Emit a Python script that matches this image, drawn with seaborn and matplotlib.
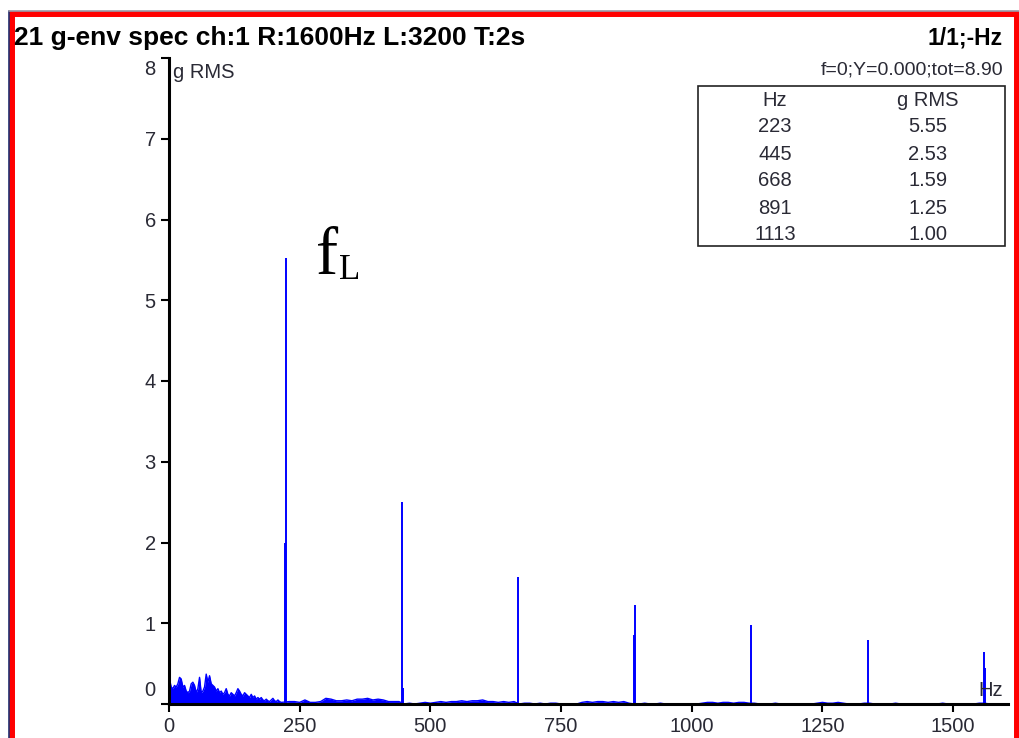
import numpy as np
import pandas as pd
import matplotlib
matplotlib.use("Agg")
import matplotlib.pyplot as plt
import seaborn as sns
from matplotlib.patches import Rectangle
from matplotlib.lines import Line2D

# ---------------- data ----------------
title_left = "21 g-env spec ch:1 R:1600Hz L:3200 T:2s"
title_right = "1/1;-Hz"
cursor_text = "f=0;Y=0.000;tot=8.90"
y_unit = "g RMS"
x_unit = "Hz"

# low-frequency noise floor (g RMS), sampled every 3.19 Hz from 1 Hz
low_start_hz = 1.0
low_step_hz = 3.19
low_noise = [0.31, 0.21, 0.19, 0.23, 0.21, 0.25, 0.33, 0.31, 0.21, 0.23,
             0.16, 0.14, 0.16, 0.25, 0.27, 0.23, 0.14, 0.19, 0.33, 0.14,
             0.16, 0.21, 0.37, 0.27, 0.35, 0.25, 0.23, 0.21, 0.16, 0.19,
             0.14, 0.16, 0.12, 0.14, 0.19, 0.12, 0.10, 0.14, 0.12, 0.10,
             0.14, 0.19, 0.16, 0.12, 0.10, 0.14, 0.12, 0.10, 0.08, 0.12,
             0.08, 0.10, 0.06, 0.08, 0.06, 0.08, 0.05, 0.04, 0.06, 0.04,
             0.03, 0.05, 0.07, 0.04, 0.03, 0.05, 0.03, 0.02]

# higher-frequency noise floor (g RMS), sampled every 10 Hz from 230 Hz
high_start_hz = 230
high_step_hz = 10
high_noise = [0.03, 0.03, 0.02, 0.05, 0.02, 0.02, 0.03, 0.07, 0.06, 0.04,
              0.04, 0.05, 0.04, 0.06, 0.06, 0.07, 0.05, 0.06, 0.05, 0.03,
              0.03, 0.03, 0.00, 0.01, 0.00, 0.01, 0.02, 0.01, 0.02, 0.03,
              0.02, 0.03, 0.03, 0.04, 0.03, 0.04, 0.04, 0.05, 0.03, 0.03,
              0.02, 0.03, 0.02, 0.03, 0.00, 0.01, 0.01, 0.00, 0.01, 0.00,
              0.01, 0.01, 0.00, 0.00, 0.00, 0.00, 0.02, 0.03, 0.02, 0.03,
              0.03, 0.02, 0.03, 0.02, 0.03, 0.01, 0.00, 0.00, 0.01, 0.00,
              0.00, 0.01, 0.00, 0.00, 0.00, 0.00, 0.00, 0.00, 0.00, 0.01,
              0.02, 0.02, 0.01, 0.02, 0.02, 0.01, 0.02, 0.02, 0.01, 0.01,
              0.00, 0.00, 0.00, 0.01, 0.00, 0.00, 0.00, 0.00, 0.00, 0.00,
              0.00, 0.01, 0.02, 0.01, 0.01, 0.02, 0.01, 0.00, 0.00, 0.00,
              0.01, 0.01, 0.00, 0.00, 0.00, 0.00, 0.01, 0.00, 0.00, 0.00,
              0.00, 0.00, 0.00, 0.00, 0.00, 0.01, 0.00, 0.00, 0.00, 0.00,
              0.00, 0.00, 0.01, 0.01, 0.00, 0.00, 0.00, 0.00]

# harmonic peaks
peak_hz = [221.5, 223, 445, 447, 668, 890, 892, 1113, 1337, 1559, 1560.5]
peak_g = [2.00, 5.52, 2.50, 0.20, 1.57, 0.86, 1.23, 0.98, 0.79, 0.64, 0.45]

# peak table
table_hz = ["223", "445", "668", "891", "1113"]
table_g = ["5.55", "2.53", "1.59", "1.25", "1.00"]

x_ticks = [0, 250, 500, 750, 1000, 1250, 1500]
y_ticks = [0, 1, 2, 3, 4, 5, 6, 7, 8]

# ---------------- style ----------------
sns.set_theme(style="white")
plt.rcParams["font.family"] = ["Liberation Sans", "DejaVu Sans"]

W, H = 1019, 738
fig = plt.figure(figsize=(W / 100, H / 100), dpi=100)
fig.patch.set_facecolor("white")


def fx(px):
    return px / W


def fy(py):
    return 1 - py / H


ax_l, ax_r, ax_t, ax_b = 169, 1008, 58, 704
ax = fig.add_axes([fx(ax_l), fy(ax_b), (ax_r - ax_l) / W, (ax_b - ax_t) / H])
ax.set_facecolor("white")

low_f = low_start_hz + low_step_hz * np.arange(len(low_noise))
high_f = high_start_hz + high_step_hz * np.arange(len(high_noise))
noise = pd.DataFrame({
    "freq": np.concatenate([low_f, high_f]),
    "amp": np.concatenate([low_noise, high_noise]),
})

ax.fill_between(noise["freq"], 0, noise["amp"], color="#0000FF", lw=0)
sns.lineplot(data=noise, x="freq", y="amp", color="#0000FF", lw=1.0, ax=ax)
ax.vlines(peak_hz, 0, peak_g, color="#0000FF", lw=1.4)

ax.set_xlim(0, 1605)
ax.set_ylim(0, 8)
ax.set_xlabel("")
ax.set_ylabel("")

for s in ["top", "right"]:
    ax.spines[s].set_visible(False)
for s in ["left", "bottom"]:
    ax.spines[s].set_color("black")
    ax.spines[s].set_linewidth(2.2)
    ax.spines[s].set_zorder(5)

tick_col = "#2a2a35"
ax.set_xticks(x_ticks)
ax.set_xticklabels([str(v) for v in x_ticks])
ax.set_yticks(y_ticks)
ax.set_yticklabels([("" if v in (0, 8) else str(v)) for v in y_ticks])
ax.tick_params(axis="both", direction="out", length=6, width=1.5, colors="black",
               labelcolor=tick_col, labelsize=14.5, pad=3.5)
ax.tick_params(axis="x", bottom=True)
ax.tick_params(axis="y", left=True)

# end labels for y axis (shifted inside the axis range)
ax.annotate("8", xy=(0, 8), xycoords=("axes fraction", "data"), xytext=(-9.5, -8.6),
            textcoords="offset points", ha="right", va="center", fontsize=14.5, color=tick_col)
ax.annotate("0", xy=(0, 0), xycoords=("axes fraction", "data"), xytext=(-9.5, 10),
            textcoords="offset points", ha="right", va="center", fontsize=14.5, color=tick_col)

# unit labels
fig.text(fx(173), fy(72), y_unit, ha="left", va="center", fontsize=14.5, color=tick_col)
fig.text(fx(1003), fy(690), x_unit, ha="right", va="center", fontsize=14.5, color=tick_col)

# title texts
fig.text(fx(14), fy(38), title_left, ha="left", va="center", fontsize=19, fontweight="bold", color="black")
fig.text(fx(1003), fy(38), title_right, ha="right", va="center", fontsize=16.5, fontweight="bold", color="black")
fig.text(fx(1003), fy(70), cursor_text, ha="right", va="center", fontsize=14, color=tick_col)

# peak table
tb_l, tb_r, tb_t, tb_b = 698, 1005, 86, 246
fig.add_artist(Rectangle((fx(tb_l), fy(tb_b)), (tb_r - tb_l) / W, (tb_b - tb_t) / H,
                         transform=fig.transFigure, fill=False, ec="#222222", lw=1.2))
col1, col2 = 775, 928
fig.text(fx(col1), fy(100), "Hz", ha="center", va="center", fontsize=14.5, color=tick_col)
fig.text(fx(col2), fy(100), "g RMS", ha="center", va="center", fontsize=14.5, color=tick_col)
for i, (h, g) in enumerate(zip(table_hz, table_g)):
    yy = 127 + 27 * i
    fig.text(fx(col1), fy(yy), h, ha="center", va="center", fontsize=14.5, color=tick_col)
    fig.text(fx(col2), fy(yy), g, ha="center", va="center", fontsize=14.5, color=tick_col)

# f_L annotation
fig.text(fx(316), fy(274), "f", ha="left", va="baseline", fontsize=48,
         family=["Liberation Serif", "DejaVu Serif"], color="black")
fig.text(fx(339), fy(279), "L", ha="left", va="baseline", fontsize=25,
         family=["Liberation Serif", "DejaVu Serif"], color="black")

# red frame
fig.add_artist(Line2D([fx(8.5), fx(8.5)], [fy(11), -0.1], transform=fig.transFigure,
                      color="#1f2f6f", lw=1.2))
fig.add_artist(Line2D([fx(8.5), fx(1019)], [fy(11), fy(11)], transform=fig.transFigure,
                      color="#9a9aa8", lw=1.2))
fig.add_artist(Rectangle((fx(12), -0.1), fx(1017) - fx(12), fy(14.5) + 0.1,
                         transform=fig.transFigure, fill=False, ec="#FF0000", lw=4.3))

fig.savefig("out.png", dpi=100, facecolor="white")
